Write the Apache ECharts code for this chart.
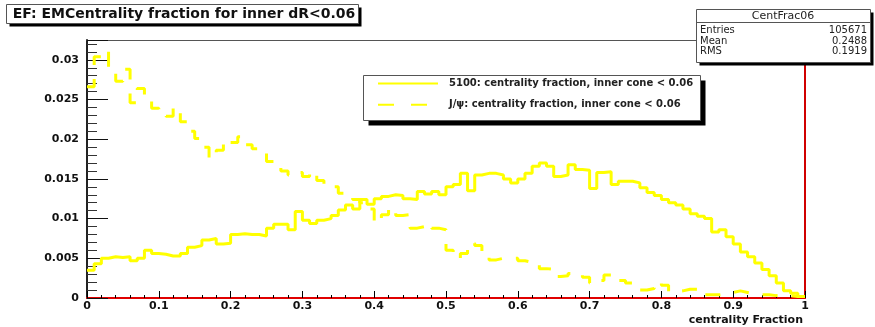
<!DOCTYPE html>
<html>
<head>
<meta charset="utf-8">
<script src="https://cdn.jsdelivr.net/npm/echarts@6/dist/echarts.min.js"></script>
<style>
  html, body { margin: 0; padding: 0; background: #ffffff; }
  #chart { width: 875px; height: 327px; }
</style>
</head>
<body>
<div id="chart"></div>
<script>
// Histogram binning: 100 bins over [0, 1]
const binCount = 100;
const binWidth = 0.01;

// 5100 sample: centrality fraction, inner cone < 0.06 (bin contents, normalised)
const signalCounts = [
  0.0035, 0.0043, 0.0050, 0.0052, 0.0051, 0.0052, 0.0047, 0.0050, 0.0060, 0.0056,
  0.0055, 0.0053, 0.0053, 0.0056, 0.0064, 0.0066, 0.0073, 0.0075, 0.0068, 0.0069,
  0.0080, 0.0081, 0.0080, 0.0080, 0.0078, 0.0088, 0.0093, 0.0093, 0.0086, 0.0109,
  0.0098, 0.0094, 0.0098, 0.0100, 0.0104, 0.0111, 0.0117, 0.0112, 0.0124, 0.0118,
  0.0125, 0.0128, 0.0130, 0.0129, 0.0125, 0.0124, 0.0134, 0.0131, 0.0134, 0.0130,
  0.0140, 0.0143, 0.0157, 0.0135, 0.0155, 0.0157, 0.0157, 0.0155, 0.0150, 0.0145,
  0.0150, 0.0157, 0.0166, 0.0170, 0.0166, 0.0153, 0.0155, 0.0168, 0.0162, 0.0161,
  0.0138, 0.0158, 0.0159, 0.0143, 0.0147, 0.0147, 0.0145, 0.0139, 0.0133, 0.0129,
  0.0124, 0.0120, 0.0117, 0.0112, 0.0106, 0.0103, 0.0100, 0.0083, 0.0086, 0.0077,
  0.0068, 0.0058, 0.0052, 0.0044, 0.0036, 0.0028, 0.0019, 0.0009, 0.0006, 0.0002
];

// J/psi sample: centrality fraction, inner cone < 0.06
const jpsiCounts = [
  0.0266, 0.0304, 0.0311, 0.0283, 0.0273, 0.0288, 0.0246, 0.0264, 0.0252, 0.0239,
  0.0236, 0.0229, 0.0240, 0.0222, 0.0210, 0.0201, 0.0190, 0.0176, 0.0186, 0.0199,
  0.0196, 0.0203, 0.0193, 0.0188, 0.0183, 0.0172, 0.0164, 0.0160, 0.0155, 0.0158,
  0.0153, 0.0159, 0.0148, 0.0143, 0.0140, 0.0132, 0.0128, 0.0124, 0.0120, 0.0112,
  0.0095, 0.0105, 0.0113, 0.0104, 0.0105, 0.0088, 0.0090, 0.0093, 0.0088, 0.0086,
  0.0060, 0.0050, 0.0056, 0.0069, 0.0066, 0.0058, 0.0048, 0.0050, 0.0050, 0.0050,
  0.0047, 0.0045, 0.0042, 0.0037, 0.0036, 0.0027, 0.0028, 0.0031, 0.0031, 0.0026,
  0.0019, 0.0022, 0.0029, 0.0025, 0.0022, 0.0019, 0.0017, 0.0010, 0.0012, 0.0020,
  0.0016, 0.0008, 0.0009, 0.0011, 0.0011, 0.0008, 0.0004, 0.0004, 0.0005, 0.0007,
  0.0009, 0.0007, 0.0005, 0.0004, 0.0004, 0.0003, 0.0003, 0.0003, 0.0002, 0.0002
];

// Axis ranges and tick spacing
const xRange = [0, 1];
const xStep = 0.1;
const yRange = [0, 0.0325];
const yStep = 0.005;

// Texts
const titleText = 'EF: EMCentrality fraction for inner dR<0.06';
const signalName = '5100: centrality fraction, inner cone < 0.06';
const jpsiName = 'J/\u03c8: centrality fraction, inner cone < 0.06';
const xTitle = 'centrality Fraction';
const statsName = 'CentFrac06';
const statsLabels = ['Entries', 'Mean', 'RMS'];
const statsValues = ['105671', '0.2488', '0.1919'];

// Turn bin contents into step points: left edge of each bin plus the closing edge
function toSteps(counts) {
  const pts = counts.map((v, i) => [i * binWidth, v]);
  pts.push([binCount * binWidth, counts[counts.length - 1]]);
  return pts;
}

const FONT = 'DejaVu Sans';
const YELLOW = '#ffff00';

const chart = echarts.init(document.getElementById('chart'), null, { renderer: 'canvas' });

// Pave boxes (title, legend, stats) with drop shadows
const graphics = [];
function pave(x, y, w, h, sh) {
  graphics.push({ type: 'rect', z: 100, shape: { x: x + sh, y: y + sh, width: w, height: h },
                  style: { fill: '#000' }, silent: true });
  graphics.push({ type: 'rect', z: 101, shape: { x: x, y: y, width: w, height: h },
                  style: { fill: '#fff', stroke: '#555', lineWidth: 1 }, silent: true });
}

// Title pave
pave(6.5, 4.5, 352, 19, 3);
graphics.push({ type: 'text', z: 102, x: 184, y: 14.5,
  style: { text: titleText, font: 'bold 14px "' + FONT + '"', fill: '#111',
           align: 'center', verticalAlign: 'middle' } });

// Legend pave (entries drawn by the ECharts legend on top)
pave(363.5, 75.5, 337, 45, 5);

// Stats pave
pave(696.5, 9.5, 174, 53, 3);
graphics.push({ type: 'line', z: 102, shape: { x1: 696.5, y1: 22.5, x2: 870.5, y2: 22.5 },
                style: { stroke: '#555', lineWidth: 1 } });
graphics.push({ type: 'text', z: 102, x: 783, y: 16.5,
  style: { text: statsName, font: '11px "' + FONT + '"', fill: '#222',
           align: 'center', verticalAlign: 'middle' } });
statsLabels.forEach((lab, i) => {
  graphics.push({ type: 'text', z: 102, x: 700, y: 30.5 + i * 10.5,
    style: { text: lab, font: '10px "' + FONT + '"', fill: '#222', align: 'left', verticalAlign: 'middle' } });
  graphics.push({ type: 'text', z: 102, x: 867, y: 30.5 + i * 10.5,
    style: { text: statsValues[i], font: '10px "' + FONT + '"', fill: '#222', align: 'right', verticalAlign: 'middle' } });
});

// X axis title
graphics.push({ type: 'text', z: 102, x: 803, y: 320,
  style: { text: xTitle, font: 'bold 11px "' + FONT + '"', fill: '#111',
           align: 'right', verticalAlign: 'middle' } });

chart.setOption({
  animation: false,
  backgroundColor: '#ffffff',
  grid: { left: 87, right: 70, top: 40, bottom: 29, containLabel: false },
  legend: {
    z: 110,
    left: 377,
    top: 78,
    orient: 'vertical',
    itemWidth: 60,
    itemHeight: 14,
    itemGap: 10,
    padding: 0,
    selectedMode: false,
    itemStyle: { color: 'rgba(0,0,0,0)', borderWidth: 0, opacity: 0 },
    data: [
      { name: signalName },
      { name: jpsiName, lineStyle: { type: [16, 17] } }
    ],
    textStyle: { fontFamily: FONT, fontWeight: 'bold', fontSize: 10, color: '#222',
                 padding: [0, 0, 0, 6] }
  },
  xAxis: [
    {
      type: 'value', min: xRange[0], max: xRange[1], interval: xStep,
      position: 'bottom',
      axisLine: { show: true, onZero: false, lineStyle: { color: '#e00000', width: 2 } },
      axisTick: { show: true, inside: true, length: 7, lineStyle: { color: '#000', width: 1 } },
      minorTick: { show: true, splitNumber: 5, length: 3, lineStyle: { color: '#000', width: 1 } },
      splitLine: { show: false },
      axisLabel: { fontFamily: FONT, fontWeight: 'bold', fontSize: 11, color: '#111', margin: 3 }
    },
    {
      type: 'value', min: xRange[0], max: xRange[1], position: 'top',
      axisLine: { show: true, onZero: false, lineStyle: { color: '#555', width: 1 } },
      axisTick: { show: false }, axisLabel: { show: false }, splitLine: { show: false }
    }
  ],
  yAxis: [
    {
      type: 'value', min: yRange[0], max: yRange[1], interval: yStep,
      position: 'left',
      axisLine: { show: true, onZero: false, lineStyle: { color: '#222', width: 2 } },
      axisTick: { show: true, inside: true, length: 21, lineStyle: { color: '#111', width: 1 } },
      minorTick: { show: true, splitNumber: 5, length: 10, lineStyle: { color: '#333', width: 1 } },
      splitLine: { show: false },
      axisLabel: { fontFamily: FONT, fontWeight: 'bold', fontSize: 11, color: '#111', margin: 8,
                   showMaxLabel: false }
    },
    {
      type: 'value', min: yRange[0], max: yRange[1], position: 'right',
      axisLine: { show: true, onZero: false, lineStyle: { color: '#d00000', width: 2 } },
      axisTick: { show: false }, axisLabel: { show: false }, splitLine: { show: false }
    }
  ],
  series: [
    {
      name: signalName, type: 'line', step: 'end', symbol: 'none',
      xAxisIndex: 0, yAxisIndex: 0,
      lineStyle: { color: YELLOW, width: 3 }, itemStyle: { color: YELLOW },
      data: toSteps(signalCounts), z: 5
    },
    {
      name: jpsiName, type: 'line', step: 'end', symbol: 'none',
      xAxisIndex: 0, yAxisIndex: 0,
      lineStyle: { color: YELLOW, width: 3, type: [15, 14] }, itemStyle: { color: YELLOW },
      data: toSteps(jpsiCounts), z: 5
    }
  ],
  graphic: graphics
});
</script>
</body>
</html>
